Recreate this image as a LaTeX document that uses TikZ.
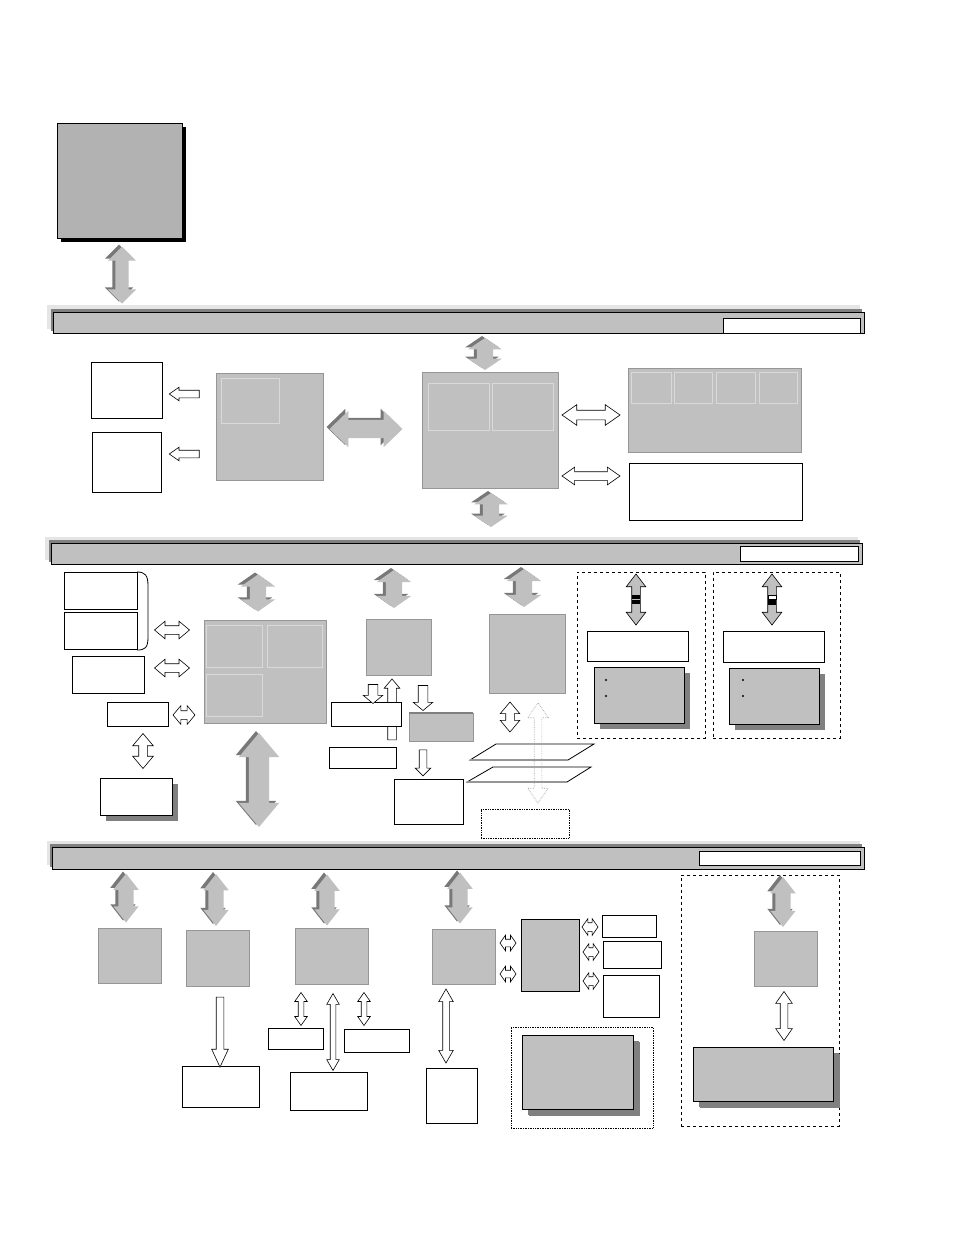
\documentclass[tikz,border=0pt]{standalone}
\usetikzlibrary{shapes.arrows, positioning, fit, shadows}

\definecolor{panelgray}{RGB}{192,192,192}
\definecolor{hostgray}{RGB}{178,178,178}
\definecolor{shadegray}{RGB}{128,128,128}
\definecolor{edgegray}{RGB}{150,150,150}
\definecolor{bandgray}{RGB}{229,229,229}
\definecolor{arrowdark}{RGB}{120,120,120}

\tikzset{
  wbox/.style={draw=black, line width=0.8pt, fill=white, inner sep=0pt, outer sep=0pt},
  panel/.style={fill=panelgray, draw=edgegray, line width=0.6pt, inner sep=0pt, outer sep=0pt},
  bpanel/.style={wbox, fill=panelgray},
  shbox/.style={wbox, drop shadow={fill=shadegray, opacity=1, shadow xshift=6pt, shadow yshift=-6pt}},
  shpanel/.style={shbox, fill=panelgray},
  grp/.style={draw=black, dashed, line width=0.7pt, inner sep=0pt},
  dotgrp/.style={draw=black, densely dotted, line width=0.7pt, inner sep=0pt},
  band/.style={inner sep=0pt, outer sep=0pt, draw=none},
  fatarr/.style={double arrow, fill=panelgray, draw=none, inner xsep=0pt, outer sep=0pt},
  fatdark/.style={fatarr, fill=arrowdark},
  fatbox/.style={double arrow, fill=panelgray, draw=black, line width=0.6pt, inner xsep=0pt, inner ysep=4pt,
    double arrow tip angle=75, minimum height=51pt, double arrow head extend=5.5pt},
  hdbl/.style={double arrow, draw=black, fill=white, line width=0.6pt, inner xsep=0pt, outer sep=0pt},
  hsgl/.style={single arrow, draw=black, fill=white, line width=0.6pt, inner xsep=0pt, outer sep=0pt}
}

\begin{document}
\begin{tikzpicture}[x=1pt, y=-1pt]
  % page
  \fill[white] (0,0) rectangle (954,1235);
  \useasboundingbox (0,0) rectangle (954,1235);

  % host block
  \node[wbox, fill=hostgray, drop shadow={fill=black, opacity=1, shadow xshift=4pt, shadow yshift=-4pt},
    fit={(57,123) (182,238)}] (host) {};

  % buses
  \node[band, fill=bandgray, fit={(47,305) (860,329)}] (bus1l) {};
  \node[band, fill=shadegray, fit={(51,309) (862,331)}] (bus1d) {};
  \node[bpanel, fit={(53,312) (864,333)}] (bus1) {};
  \node[wbox, fit={(723,318) (860,333)}] (bus1tag) {};

  \node[band, fill=bandgray, fit={(45,537) (858,560)}] (bus2l) {};
  \node[band, fill=shadegray, fit={(49,540) (860,562)}] (bus2d) {};
  \node[bpanel, fit={(51,543) (862,564)}] (bus2) {};
  \node[wbox, fit={(740,546) (858,561)}] (bus2tag) {};

  \node[band, fill=bandgray, fit={(47,841) (860,865)}] (bus3l) {};
  \node[band, fill=shadegray, fit={(50,844) (862,867)}] (bus3d) {};
  \node[bpanel, fit={(52,847) (864,869)}] (bus3) {};
  \node[wbox, fit={(699,851) (860,865)}] (bus3tag) {};

  % ---- level 1 ----
  \node[wbox, fit={(91,362) (162,418)}] (outa) {};
  \node[wbox, fit={(92,432) (161,492)}] (outb) {};
  \node[panel, fit={(216,373) (323,480)}] (ctrl) {};
  \node[panel, draw=gray!30, fit={(221,378) (279,423)}] (ctrlin) {};
  \node[panel, fit={(422,372) (558,488)}] (bridge) {};
  \node[panel, draw=gray!30, fit={(428,383) (489,430)}] (bridgea) {};
  \node[panel, draw=gray!30, fit={(492,383) (553,430)}] (bridgeb) {};
  \node[panel, fit={(628,368) (801,452)}] (mem) {};
  \foreach \i/\xa/\xb in {1/631/671, 2/674/712, 3/716/755, 4/759/797}
    \node[panel, draw=gray!30, fit={(\xa,372) (\xb,403)}] (mem\i) {};
  \node[wbox, fit={(629,463) (802,520)}] (memx) {};

  % ---- level 2 ----
  \node[wbox, fit={(64,572) (137,609)}] (dva) {};
  \node[wbox, fit={(64,612) (137,649)}] (dvb) {};
  \draw[line width=0.8pt] (137,572) .. controls (145,572) and (148,575) .. (148,586)
    -- (148,637) .. controls (148,648) and (145,650) .. (137,650);
  \node[wbox, fit={(72,656) (144,693)}] (dvc) {};
  \node[wbox, fit={(107,702) (168,726)}] (dvd) {};
  \node[shbox, fit={(100,778) (172,815)}] (dve) {};
  \node[panel, fit={(204,620) (326,723)}] (io) {};
  \node[panel, draw=gray!30, fit={(206,625) (262,667)}] (ioa) {};
  \node[panel, draw=gray!30, fit={(267,625) (322,667)}] (iob) {};
  \node[panel, draw=gray!30, fit={(206,674) (262,716)}] (ioc) {};

  \node[panel, fit={(366,619) (431,675)}] (ser) {};
  \node[hsgl, minimum height=61pt, inner ysep=4pt, single arrow head extend=3.5pt,
    single arrow tip angle=80, rotate=90] (serup) at (392,712) {};
  \node[wbox, fit={(331,702) (401,726)}] (sera) {};
  \node[wbox, fit={(329,747) (396,768)}] (serb) {};
  \node[panel, fit={(409,713) (473,741)}] (serc) {};
  \draw[shadegray, line width=1.2pt] (serc.north west) -- (serc.north east);
  \node[wbox, fit={(394,779) (463,824)}] (serd) {};

  \node[panel, fit={(489,614) (565,693)}] (net) {};
  % planes
  \draw[wbox] (496,744) -- (594,744) -- (568,760) -- (470,760) -- cycle;
  \draw[edgegray, line width=1.5pt] (470,760) -- (568,760);
  \draw[wbox] (493,767) -- (591,767) -- (567,782) -- (467,782) -- cycle;
  \draw[edgegray, line width=1.5pt] (467,782) -- (567,782);
  \node[double arrow, draw=gray!70, densely dotted, line width=0.7pt, inner xsep=0pt, inner ysep=3.5pt,
    minimum height=100pt, double arrow head extend=6.5pt,
    double arrow tip angle=70, rotate=90] (netlink) at (538,753) {};
  \node[dotgrp, fit={(481,809) (569,838)}] (netx) {};

  % grouped ports
  \node[grp, fit={(577,572) (705,738)}] (grpa) {};
  \node[grp, fit={(713,572) (840,738)}] (grpb) {};
  \node[fatbox, rotate=90] (grpaarr) at (636,599.5) {};
  \fill[black] (632,595) rectangle (640,599);
  \fill[black] (632,600) rectangle (640,604);
  \node[fatbox, rotate=90] (grpbarr) at (772,599.5) {};
  \draw[black, fill=white, line width=0.6pt] (768,595) rectangle (776,599);
  \fill[black] (768,600) rectangle (776,605);
  \node[wbox, fit={(587,631) (688,661)}] (grpatop) {};
  \node[shpanel, fit={(594,667) (684,723)}] (grpalist) {};
  \node[wbox, fit={(723,631) (824,662)}] (grpbtop) {};
  \node[shpanel, fit={(729,668) (819,724)}] (grpblist) {};
  \foreach \bx in {606,743}
    \foreach \by in {680,696}
      \fill (\bx,\by) circle (1.2pt);

  % ---- level 3 ----
  \node[panel, fit={(98,928) (161,983)}] (dka) {};
  \node[panel, fit={(186,930) (249,986)}] (dkb) {};
  \node[panel, fit={(295,928) (368,984)}] (dkc) {};
  \node[panel, fit={(432,929) (495,984)}] (dkd) {};
  \node[bpanel, fit={(521,919) (579,991)}] (hub) {};
  \node[wbox, fit={(602,915) (656,937)}] (huba) {};
  \node[wbox, fit={(603,941) (661,968)}] (hubb) {};
  \node[wbox, fit={(603,975) (659,1017)}] (hubc) {};
  \node[wbox, fit={(182,1066) (259,1107)}] (dkbx) {};
  \node[wbox, fit={(268,1028) (323,1049)}] (dkca) {};
  \node[wbox, fit={(290,1072) (367,1110)}] (dkcb) {};
  \node[wbox, fit={(344,1029) (409,1052)}] (dkcc) {};
  \node[wbox, fit={(426,1068) (477,1123)}] (dkdx) {};
  \node[dotgrp, fit={(511,1027) (653,1128)}] (extgrp) {};
  \node[shpanel, drop shadow={fill=shadegray, opacity=1, shadow xshift=7pt, shadow yshift=-7pt},
    fit={(522,1035) (633,1109)}] (ext) {};
  \node[grp, fit={(681,875) (839,1126)}] (rgrp) {};
  \node[panel, fit={(754,931) (817,986)}] (rdev) {};
  \node[shpanel, drop shadow={fill=shadegray, opacity=1, shadow xshift=7pt, shadow yshift=-7pt},
    fit={(693,1047) (833,1101)}] (rpanel) {};

  % fat bus arrows
  \foreach \nm/\cx/\cy/\len/\wid/\ext/\tip/\rot in {
      hostarr/122/275/57/28/7.5/90/90, l1up/485/354/32/33/8.5/112/90, l1dn/491/510/34/33/8.5/112/90,
      l1lr/366/429/73/36/9/88/0,
      l2io/258/593/37/34/9/110/90, l2ser/394/589/38/34/9/110/90, l2net/524/588/38/34/9/110/90,
      l2big/259/780/94/40/10/80/90,
      l3a/126/898/49/25/5/76/90, l3b/216/900/52/25/5/76/90, l3c/327/900/51/25/5/76/90,
      l3d/460/898/51/25/5/76/90, l3e/783/902/50/25/5/76/90}
  {
    \pgfmathsetmacro\hs{(\wid-2*\ext)/2}
    \node[fatdark, minimum height=\len pt, inner ysep=\hs pt, double arrow head extend=\ext pt,
      double arrow tip angle=\tip, rotate=\rot] (\nm-sh) at (\cx-3,\cy-2) {};
    \node[fatarr, minimum height=\len pt, inner ysep=\hs pt, double arrow head extend=\ext pt,
      double arrow tip angle=\tip, rotate=\rot] (\nm) at (\cx,\cy) {};
  }

  % hollow double arrows
  \foreach \nm/\cx/\cy/\len/\wid/\ext/\tip/\rot in {
      m1/591/415/58/20/5.5/70/0, m2/591/476/58/17/4.5/70/0,
      d1/172/630/35/17/4.5/80/0, d2/172/668/35/17/4.5/80/0, d3/184/715/22/18/5/100/0,
      d4/143/751/35/20/6/80/90, n1/510/717/30/19/5.5/80/90,
      c1/301/1009/33/12/3.5/70/90, c2/333/1032/77/12/3.5/60/90, c3/364/1009/33/12/3.5/70/90,
      e1/446/1026/74/14/4/60/90,
      h1/508/943/16/15/4/110/0, h2/508/974/16/15/4/110/0,
      h3/590/927/16/16/4/110/0, h4/591/952/16/16/4/110/0, h5/591/981/16/16/4/110/0,
      r1/784/1016/49/16/4.5/70/90}
  {
    \pgfmathsetmacro\hs{(\wid-2*\ext)/2}
    \node[hdbl, minimum height=\len pt, inner ysep=\hs pt, double arrow head extend=\ext pt,
      double arrow tip angle=\tip, rotate=\rot] (\nm) at (\cx,\cy) {};
  }

  % hollow single arrows
  \foreach \nm/\cx/\cy/\len/\wid/\ext/\tip/\rot in {
      oa/187/394/30/13/3/70/180, ob/187/454/30/13/3/70/180,
      sa/373/692/19/19/5/100/-90, sb/423/696/25/19/5/100/-90, sc/423/761/26/15/4/90/-90,
      bx/220/1028/70/16/4.5/50/-90}
  {
    \pgfmathsetmacro\hs{(\wid-2*\ext)/2}
    \node[hsgl, minimum height=\len pt, inner ysep=\hs pt, single arrow head extend=\ext pt,
      single arrow tip angle=\tip, rotate=\rot] (\nm) at (\cx,\cy) {};
  }
\end{tikzpicture}
\end{document}
